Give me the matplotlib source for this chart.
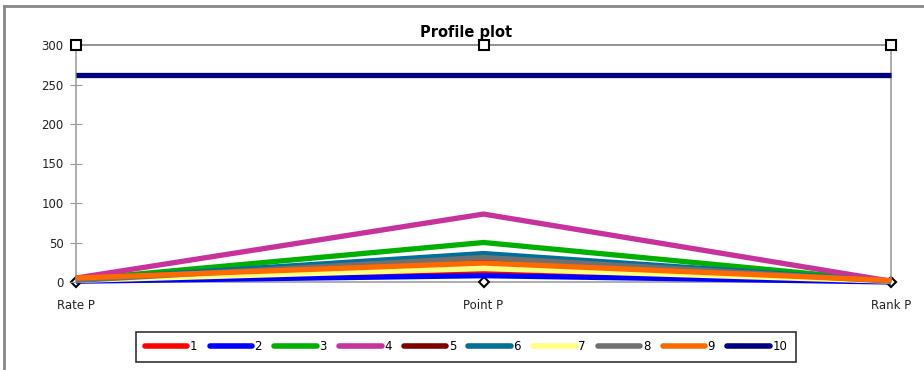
import matplotlib
matplotlib.use("Agg")
import matplotlib.pyplot as plt
from matplotlib.lines import Line2D

categories = ["Rate P", "Point P", "Rank P"]
series_names = ["1", "2", "3", "4", "5", "6", "7", "8", "9", "10"]
series_values = [
    [2, 14, 1],     # 1
    [1, 8, 0],      # 2
    [3, 50, 1],     # 3
    [5, 86, 1],     # 4
    [3, 27, 1],     # 5
    [3, 36, 1],     # 6
    [2, 17, 1],     # 7
    [2, 31, 1],     # 8
    [5, 24, 2],     # 9
    [262, 262, 262] # 10
]
series_colors = ["#FF0000", "#0000FF", "#00B000", "#C8329B", "#800000",
                 "#00709A", "#FFFF80", "#707070", "#FF6A00", "#000080"]
max_line = [300, 300, 300]
min_line = [0, 0, 0]
yticks = [0, 50, 100, 150, 200, 250, 300]

W, H = 924, 370
fig = plt.figure(figsize=(W / 100, H / 100), dpi=100)
ax = fig.add_axes([76 / W, 1 - 282 / H, (891 - 76) / W, (282 - 45) / H])

x = list(range(len(categories)))

ax.plot(x, max_line, color="#808080", lw=1.2, marker="s", ms=7,
        mfc="white", mec="black", mew=1.5, clip_on=False, zorder=5)
ax.plot(x, min_line, color="#A0A0A0", lw=1.2, marker="D", ms=5,
        mfc="white", mec="black", mew=1.5, clip_on=False, zorder=1)

for name, vals, col in zip(series_names, series_values, series_colors):
    ax.plot(x, vals, color=col, lw=3.8, solid_capstyle="butt",
            solid_joinstyle="miter", label=name, zorder=3, clip_on=False)

ax.set_xlim(0, 2)
ax.set_ylim(0, 300)
ax.set_yticks(yticks)
ax.set_yticklabels([str(v) for v in yticks], fontsize=8.5, color="#222222")
ax.set_xticks(x)
ax.set_xticklabels(categories, fontsize=8.5, color="#222222")
ax.tick_params(axis="x", length=0, pad=12)
ax.tick_params(axis="y", direction="inout", length=8, color="#999999", pad=5)

for side in ["top", "bottom"]:
    ax.spines[side].set_visible(False)
for side in ["left", "right"]:
    ax.spines[side].set_color("#A0A0A0")
    ax.spines[side].set_linewidth(1.2)

fig.text(466 / W, 1 - 33 / H, "Profile plot", ha="center", va="center",
         fontsize=10.5, fontweight="bold")

handles = [Line2D([0], [0], color=c, lw=4, solid_capstyle="round")
           for c in series_colors]
leg = fig.legend(handles, series_names, loc="center",
                 bbox_to_anchor=(466 / W, 1 - 347 / H), ncol=10,
                 frameon=True, fancybox=False, fontsize=8.5,
                 handlelength=3.6, handletextpad=0.2, columnspacing=1.05,
                 borderpad=0.75, borderaxespad=0)
leg.get_frame().set_edgecolor("black")
leg.get_frame().set_linewidth(1.2)

# outer chart border (top and left visible)
fig.add_artist(Line2D([4 / W, 4 / W], [0, 1 - 6 / H], color="#888888", lw=2,
                      transform=fig.transFigure))
fig.add_artist(Line2D([4 / W, 1], [1 - 6 / H, 1 - 6 / H], color="#888888", lw=2,
                      transform=fig.transFigure))

fig.savefig("out.png", dpi=100, facecolor="white")
